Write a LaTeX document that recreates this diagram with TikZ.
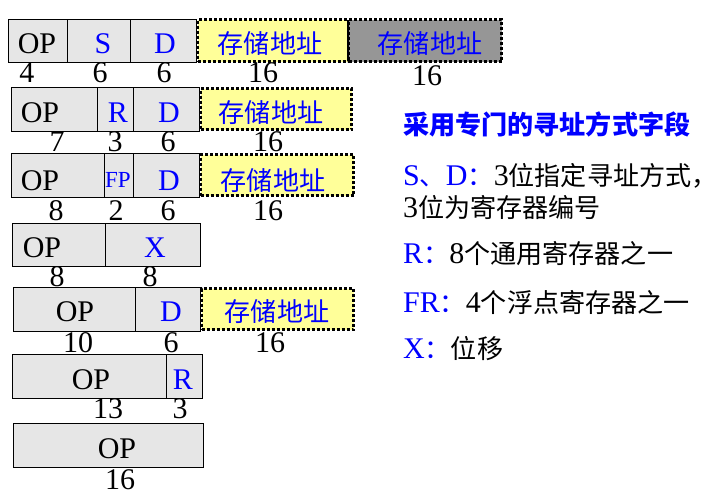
\documentclass[tikz,border=0pt]{standalone}
\usepackage{fontspec}
\setmainfont{Liberation Serif}
\newfontfamily\cjk{Noto Sans CJK SC}[Scale=0.87]
\newcommand{\zh}[1]{{\cjk #1}}
\usetikzlibrary{positioning}
\definecolor{cellGray}{RGB}{230,230,230}
\definecolor{addrYellow}{RGB}{255,255,153}
\definecolor{addrGray}{RGB}{150,150,150}
\definecolor{labelBlue}{RGB}{0,0,255}
\tikzset{
  field/.style={rectangle, draw=black, line width=0.8pt, fill=cellGray, anchor=north west, inner sep=0pt, outer sep=0pt},
  addr/.style={rectangle, draw=black, line width=3pt, dash pattern=on 3pt off 2pt, fill=addrYellow, inner sep=0pt, outer sep=0pt},
  addrgray/.style={addr, fill=addrGray},
  celltext/.style={anchor=base, inner sep=0pt, font=\fontsize{30}{34}\selectfont},
  bluetext/.style={celltext, text=labelBlue},
  bits/.style={celltext},
  legend/.style={anchor=base west, inner sep=0pt, font=\fontsize{30}{34}\selectfont}
}
\begin{document}
\begin{tikzpicture}[x=1pt, y=-1pt]
  \useasboundingbox (0,0) rectangle (723,498);

  % Formato 1: OP S D + dos direcciones
  \node[field, minimum width=59pt, minimum height=43pt] (op1) at (8,19) {};
  \node[field, minimum width=63pt, minimum height=43pt, right=0pt of op1] (s1) {};
  \node[field, minimum width=66pt, minimum height=43pt, right=0pt of s1] (d1) {};
  \node[addr, minimum width=151pt, minimum height=42pt, right=1.5pt of d1] (addr1) {};
  \node[addrgray, minimum width=153pt, minimum height=42pt, right=0pt of addr1] (addr1b) {};
  \node[celltext] (t1op) at (37,53) {OP};
  \node[bluetext] (t1s) at (103,53) {S};
  \node[bluetext] (t1d) at (165,53) {D};
  \node[bluetext] (t1a) at (270,53) {\zh{存储地址}};
  \node[bluetext] (t1b) at (430,53) {\zh{存储地址}};
  \node[bits] (n1a) at (27,82) {4};
  \node[bits] (n1b) at (100,82) {6};
  \node[bits] (n1c) at (164,82) {6};
  \node[bits] (n1d) at (263,82) {16};
  \node[bits] (n1e) at (427,85) {16};

  % Formato 2: OP R D
  \node[field, minimum width=86pt, minimum height=44pt] (op2) at (11,87) {};
  \node[field, minimum width=36pt, minimum height=44pt, right=0pt of op2] (r2) {};
  \node[field, minimum width=66pt, minimum height=44pt, right=0pt of r2] (d2) {};
  \node[addr, minimum width=151pt, minimum height=41pt, right=1.5pt of d2] (addr2) {};
  \node[celltext] (t2op) at (40,122) {OP};
  \node[bluetext] (t2r) at (118,122) {R};
  \node[bluetext] (t2d) at (169,122) {D};
  \node[bluetext] (t2a) at (271,122) {\zh{存储地址}};
  \node[bits] (n2a) at (57,151) {7};
  \node[bits] (n2b) at (115,151) {3};
  \node[bits] (n2c) at (168,151) {6};
  \node[bits] (n2d) at (268,151) {16};

  % Formato 3: OP FP D
  \node[field, minimum width=93pt, minimum height=44pt] (op3) at (11,153) {};
  \node[field, minimum width=29pt, minimum height=44pt, right=0pt of op3] (fp3) {};
  \node[field, minimum width=66pt, minimum height=44pt, right=0pt of fp3] (d3) {};
  \node[addr, minimum width=153pt, minimum height=41pt, right=1.5pt of d3] (addr3) {};
  \node[celltext] (t3op) at (40,190) {OP};
  \node[bluetext, font=\fontsize{23}{27}\selectfont] (t3fp) at (118,187) {FP};
  \node[bluetext] (t3d) at (169,190) {D};
  \node[bluetext] (t3a) at (273,190) {\zh{存储地址}};
  \node[bits] (n3a) at (56,220) {8};
  \node[bits] (n3b) at (116,220) {2};
  \node[bits] (n3c) at (168,220) {6};
  \node[bits] (n3d) at (268,220) {16};

  % Formato 4: OP X
  \node[field, minimum width=93pt, minimum height=43pt] (op4) at (12,223) {};
  \node[field, minimum width=95pt, minimum height=43pt, right=0pt of op4] (x4) {};
  \node[celltext] (t4op) at (42,257) {OP};
  \node[bluetext] (t4x) at (155,257) {X};
  \node[bits] (n4a) at (57,286) {8};
  \node[bits] (n4b) at (150,286) {8};

  % Formato 5: OP D
  \node[field, minimum width=122pt, minimum height=44pt] (op5) at (13,287) {};
  \node[field, minimum width=65pt, minimum height=44pt, right=0pt of op5] (d5) {};
  \node[addr, minimum width=152pt, minimum height=41pt, right=1.5pt of d5] (addr5) {};
  \node[celltext] (t5op) at (75,321) {OP};
  \node[bluetext] (t5d) at (171,321) {D};
  \node[bluetext] (t5a) at (277,321) {\zh{存储地址}};
  \node[bits] (n5a) at (78,352) {10};
  \node[bits] (n5b) at (171,352) {6};
  \node[bits] (n5c) at (270,352) {16};

  % Formato 6: OP R
  \node[field, minimum width=154pt, minimum height=44pt] (op6) at (12,354) {};
  \node[field, minimum width=36pt, minimum height=44pt, right=0pt of op6] (r6) {};
  \node[celltext] (t6op) at (91,389) {OP};
  \node[bluetext] (t6r) at (183,389) {R};
  \node[bits] (n6a) at (108,418) {13};
  \node[bits] (n6b) at (180,418) {3};

  % Formato 7: solo OP
  \node[field, minimum width=190pt, minimum height=44pt] (op7) at (13,423) {};
  \node[celltext] (t7op) at (117,458) {OP};
  \node[bits] (n7a) at (120,489) {16};

  % Leyenda a la derecha
  \node[legend, text=labelBlue] (title) at (403,134) {\zh{\bfseries 采用专门的寻址方式字段}};
  \node[legend] (sd) at (403,185) {{\color{labelBlue}S\zh{、}D\zh{：}}3\zh{位指定寻址方式，}};
  \node[legend] (sd2) at (403,217) {3\zh{位为寄存器编号}};
  \node[legend] (rr) at (403,263) {{\color{labelBlue}R\zh{：}}8\zh{个通用寄存器之一}};
  \node[legend] (fr) at (403,312) {{\color{labelBlue}FR\zh{：}}4\zh{个浮点寄存器之一}};
  \node[legend] (xx) at (403,358) {{\color{labelBlue}X\zh{：}}\zh{位移}};
\end{tikzpicture}
\end{document}
